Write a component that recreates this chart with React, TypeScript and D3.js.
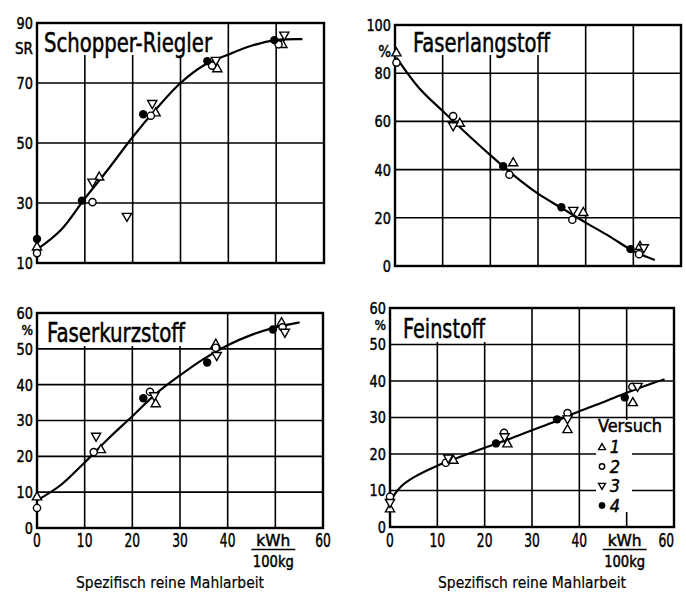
import React from 'react';
import * as d3 from 'd3';

type Pt = [number, number];

const FONT = "'DejaVu Sans Condensed', 'DejaVu Sans', sans-serif";

// Gridline positions along the work axis (kWh/100 kg)
const xGrid = [10, 20, 30, 40, 50];
const xTickLabels = ['0', '10', '20', '30', '40'];

// --- Schopper-Riegler (°SR) ---
const srV1: Pt[] = [[0, 15.5], [13, 38.8], [24.8, 60.2], [37.7, 74.9], [51.3, 83.0]];
const srV2: Pt[] = [[0, 13.3], [11.6, 30.3], [23.8, 59.1], [36.6, 75.8], [50.5, 82.9]];
const srV3: Pt[] = [[11.6, 36.8], [18.8, 25.4], [24.1, 63], [37.4, 77.4], [51.7, 85.8]];
const srV4: Pt[] = [[0, 18], [9.4, 30.8], [22.2, 59.6], [35.6, 77.3], [49.6, 84.3]];
const srCurve: Pt[] = [[0, 14.5], [5, 21], [10, 31.5], [15, 41.5], [20, 52], [25, 61.5], [30, 70], [35, 76], [40, 79.5], [45, 82.5], [50, 84.3], [55.5, 84.6]];
const srYLabels = [10, 30, 50, 70, 90];
const srYGrid = [30, 50, 70];

// --- Faserlangstoff (%) ---
const langV1: Pt[] = [[0.3, 88.6], [13.6, 59.4], [24.8, 43], [39.5, 22.4], [51.4, 8.3]];
const langV2: Pt[] = [[0.3, 84.4], [12.2, 62.2], [24, 37.9], [37.2, 19.2], [51.2, 4.9]];
const langV3: Pt[] = [[12.2, 58], [37.4, 22.9], [52.2, 7.4]];
const langV4: Pt[] = [[22.7, 41.4], [34.9, 24.4], [49.4, 7]];
const langCurve: Pt[] = [[0.3, 86.5], [5, 74], [10, 64.3], [15, 55], [20, 46], [25, 37.5], [30, 30], [35, 24], [40, 18], [45, 12.3], [50, 6.2], [54.5, 2.5]];
const langYLabels = [0, 20, 40, 60, 80, 100];
const langYGrid = [20, 40, 60, 80];

// --- Faserkurzstoff (%) ---
const kurzV1: Pt[] = [[0, 8.8], [13.4, 22], [24.9, 34.8], [37.5, 51.4], [51.3, 57.4]];
const kurzV2: Pt[] = [[0, 5.6], [11.9, 21.2], [23.7, 38], [37.5, 50.3], [51.5, 56]];
const kurzV3: Pt[] = [[12.4, 25.5], [24.6, 36.8], [37.7, 48], [52, 54.5]];
const kurzV4: Pt[] = [[22.3, 36.2], [35.7, 46.2], [49.5, 55.4]];
const kurzCurve: Pt[] = [[0, 7.7], [5, 12], [10, 18.3], [15, 25], [20, 31.2], [25, 37.5], [30, 42.6], [35, 47.2], [40, 51], [45, 53.9], [50, 56], [55.1, 57.4]];
const pctYLabels = [0, 10, 20, 30, 40, 50, 60];
const pctYGrid = [10, 20, 30, 40, 50];

// --- Feinstoff (%) ---
const feinV1: Pt[] = [[0, 5.1], [13.4, 18.4], [24.8, 22.9], [37.5, 26.8], [51.3, 34.2]];
const feinV2: Pt[] = [[0, 8.3], [11.8, 17.6], [24.1, 25.8], [37.5, 31.2], [51.2, 38.4]];
const feinV3: Pt[] = [[0, 6.6], [12.3, 18.8], [24.2, 24.6], [37.5, 29.5], [52.3, 38.4]];
const feinV4: Pt[] = [[22.4, 22.9], [35.3, 29.5], [49.6, 35.5]];
const feinCurve: Pt[] = [[0, 6.5], [1, 9], [2.5, 11.3], [5, 13.6], [10, 16.8], [15, 19.3], [20, 21.7], [25, 24], [30, 26.5], [35, 29], [40, 31.7], [45, 34.2], [50, 36.8], [55, 39.2], [58, 40.5]];

const legendLabels = ['1', '2', '3', '4'];
const markerKinds = ['up', 'circle', 'down', 'filled'] as const;
type Kind = typeof markerKinds[number];

interface PanelDef {
  title: string;
  titleLen: number;
  titleDx: number;
  titleDy: number;
  unit: string;
  unitDy: number;
  unitSize: number;
  box: { l: number; r: number; t: number; b: number };
  yDomain: [number, number];
  yLabels: number[];
  yGrid: number[];
  series: Pt[][];
  curve: Pt[];
  knock: [number, number];
  xAxis: boolean;
  captionX?: number;
  lastTickEnd?: boolean;
  legend?: boolean;
}

const panels: PanelDef[] = [
  {
    title: 'Schopper-Riegler', titleLen: 168, titleDx: 7, titleDy: 29, unit: 'SR', unitDy: 26, unitSize: 15,
    box: { l: 37, r: 324, t: 23, b: 263 }, yDomain: [10, 90],
    yLabels: srYLabels, yGrid: srYGrid,
    series: [srV1, srV2, srV3, srV4], curve: srCurve, knock: [220, 56], xAxis: false,
  },
  {
    title: 'Faserlangstoff', titleLen: 137, titleDx: 18, titleDy: 27, unit: '%', unitDy: 27, unitSize: 15,
    box: { l: 395, r: 681, t: 25, b: 266 }, yDomain: [0, 100],
    yLabels: langYLabels, yGrid: langYGrid,
    series: [langV1, langV2, langV3, langV4], curve: langCurve, knock: [556, 56], xAxis: false,
  },
  {
    title: 'Faserkurzstoff', titleLen: 138, titleDx: 10, titleDy: 29, unit: '%', unitDy: 17.5, unitSize: 13.5,
    box: { l: 37, r: 323, t: 313, b: 528 }, yDomain: [0, 60],
    yLabels: pctYLabels, yGrid: pctYGrid,
    series: [kurzV1, kurzV2, kurzV3, kurzV4], curve: kurzCurve, knock: [195, 347], xAxis: true,
    captionX: 170,
  },
  {
    title: 'Feinstoff', titleLen: 82, titleDx: 13, titleDy: 30, unit: '%', unitDy: 17, unitSize: 13.5,
    box: { l: 390, r: 674, t: 308, b: 527 }, yDomain: [0, 60],
    yLabels: pctYLabels, yGrid: pctYGrid,
    series: [feinV1, feinV2, feinV3, feinV4], curve: feinCurve, knock: [495, 343], xAxis: true,
    captionX: 532, lastTickEnd: true, legend: true,
  },
];

function Marker({ kind, x, y, s = 1 }: { kind: Kind; x: number; y: number; s?: number }) {
  const h = 4.6 * s;
  if (kind === 'up') {
    return <path d={`M${x},${y - h}L${x + h},${y + h * 0.75}L${x - h},${y + h * 0.75}Z`} fill="#fff" stroke="#000" strokeWidth={1.4} />;
  }
  if (kind === 'down') {
    return <path d={`M${x},${y + h}L${x + h},${y - h * 0.75}L${x - h},${y - h * 0.75}Z`} fill="#fff" stroke="#000" strokeWidth={1.4} />;
  }
  if (kind === 'circle') {
    return <circle cx={x} cy={y} r={3.6 * s} fill="#fff" stroke="#000" strokeWidth={1.4} />;
  }
  return <circle cx={x} cy={y} r={4.2 * s} fill="#000" />;
}

const ink = { fill: '#000', stroke: '#000', strokeWidth: 0.45 };

function Panel({ p }: { p: PanelDef }) {
  const { l, r, t, b } = p.box;
  const x = d3.scaleLinear().domain([0, 60]).range([l, r]);
  const y = d3.scaleLinear().domain(p.yDomain).range([b, t]);
  const line = d3.line<Pt>().x(d => x(d[0])).y(d => y(d[1])).curve(d3.curveCatmullRom.alpha(0.5));
  const fracX = x(50) - 2;
  return (
    <g>
      {/* grid */}
      {xGrid.map(v => (
        <line key={'gx' + v} x1={x(v)} x2={x(v)} y1={t} y2={b} stroke="#000" strokeWidth={1.6} />
      ))}
      {p.yGrid.map(v => (
        <line key={'gy' + v} x1={l} x2={r} y1={y(v)} y2={y(v)} stroke="#000" strokeWidth={1.6} />
      ))}
      {/* title knockout */}
      <rect x={l} y={t} width={p.knock[0] - l} height={p.knock[1] - t - 1} fill="#fff" />
      {p.legend && (
        <g>
          <rect x={596} y={420} width={70} height={16} fill="#fff" />
          <rect x={596} y={420} width={36} height={92} fill="#fff" />
        </g>
      )}
      {/* frame */}
      <rect x={l} y={t} width={r - l} height={b - t} fill="none" stroke="#000" strokeWidth={2.4} />
      {/* fitted curve */}
      <path d={line(p.curve) || ''} fill="none" stroke="#000" strokeWidth={2.2} />
      {/* measured points */}
      {p.series.map((ser, i) =>
        ser.map((d, j) => <Marker key={`m${i}-${j}`} kind={markerKinds[i]} x={x(d[0])} y={y(d[1])} />)
      )}
      {/* title */}
      <text x={l + p.titleDx} y={t + p.titleDy} fontFamily={FONT} fontSize={27} {...ink} strokeWidth={0.5}
        textLength={p.titleLen} lengthAdjust="spacingAndGlyphs">{p.title}</text>
      {/* y tick labels */}
      {p.yLabels.map(v => (
        <text key={'yl' + v} x={l - 4} y={y(v)} dy="0.36em" textAnchor="end" fontFamily={FONT} fontSize={16.5} {...ink}
          textLength={String(v).length * 8.2} lengthAdjust="spacingAndGlyphs">{v}</text>
      ))}
      <text x={l - 4} y={t + p.unitDy} dy="0.36em" textAnchor="end" fontFamily={FONT} fontSize={p.unitSize} {...ink}>{p.unit}</text>
      {/* x axis labels */}
      {p.xAxis && (
        <g fontFamily={FONT} {...ink}>
          {xTickLabels.map((s, i) => (
            <text key={'xl' + s} x={x(i * 10)} y={547} textAnchor="middle" fontSize={19}
              textLength={s.length * 7.8} lengthAdjust="spacingAndGlyphs">{s}</text>
          ))}
          <text x={p.lastTickEnd ? r : x(60)} y={547} textAnchor={p.lastTickEnd ? 'end' : 'middle'} fontSize={19}
            textLength={15.6} lengthAdjust="spacingAndGlyphs">60</text>
          <text x={fracX} y={546} textAnchor="middle" fontSize={16} textLength={34} lengthAdjust="spacingAndGlyphs">kWh</text>
          <line x1={fracX - 22} x2={fracX + 22} y1={549.5} y2={549.5} stroke="#000" strokeWidth={1.6} />
          <text x={fracX} y={567} textAnchor="middle" fontSize={15} textLength={41} lengthAdjust="spacingAndGlyphs">100kg</text>
          <text x={p.captionX} y={588} textAnchor="middle" fontSize={16} strokeWidth={0.2}
            textLength={188} lengthAdjust="spacingAndGlyphs">Spezifisch reine Mahlarbeit</text>
        </g>
      )}
      {/* legend */}
      {p.legend && (
        <g fontFamily={FONT} {...ink}>
          <text x={598} y={432} fontSize={17} textLength={64} lengthAdjust="spacingAndGlyphs">Versuch</text>
          {legendLabels.map((s, i) => (
            <g key={'lg' + s}>
              <Marker kind={markerKinds[i]} x={602} y={447 + i * 19.5} s={0.75} />
              <text x={615} y={447 + i * 19.5} dy="0.36em" textAnchor="middle" fontSize={18} fontStyle="italic">{s}</text>
            </g>
          ))}
        </g>
      )}
    </g>
  );
}

export default function App() {
  return (
    <svg width={686} height={595} style={{ position: 'absolute', left: 0, top: 0, background: '#fff' }}>
      <rect width={686} height={595} fill="#fff" />
      {panels.map(p => <Panel key={p.title} p={p} />)}
    </svg>
  );
}
